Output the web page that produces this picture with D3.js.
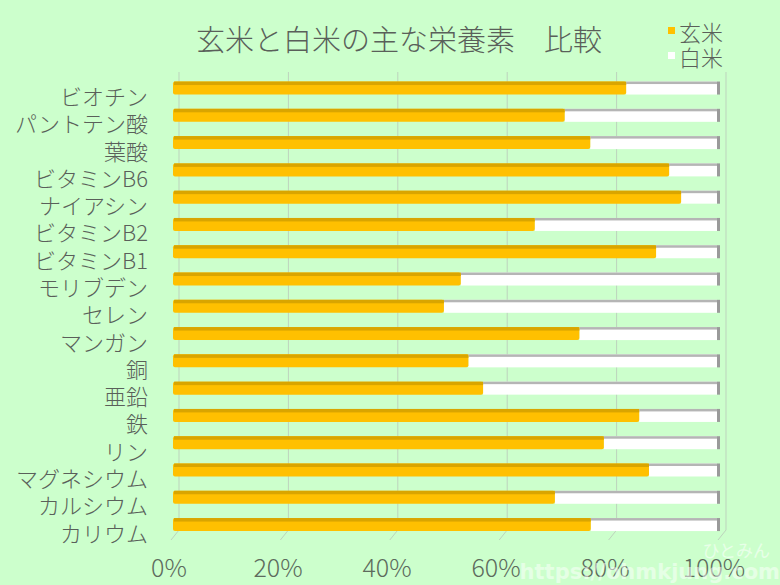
<!DOCTYPE html>
<html><head><meta charset="utf-8">
<script src="https://cdn.jsdelivr.net/npm/d3@7"></script>
<style>body{margin:0;background:#ccffcc;}svg{display:block;}</style>
</head><body>
<script>
const categories = ["ビオチン","パントテン酸","葉酸","ビタミンB6","ナイアシン","ビタミンB2","ビタミンB1","モリブデン","セレン","マンガン","銅","亜鉛","鉄","リン","マグネシウム","カルシウム","カリウム"];
const genmai = [0.833,0.720,0.767,0.912,0.934,0.665,0.888,0.529,0.498,0.747,0.543,0.570,0.857,0.792,0.875,0.702,0.768];
const hakumai = genmai.map(v => 1 - v);
const tickValues = [0,0.2,0.4,0.6,0.8,1.0];
const tickLabels = ["0%","20%","40%","60%","80%","100%"];
const seriesNames = ["玄米","白米"];
const title = "玄米と白米の主な栄養素　比較";

const W = 780, H = 585;
const font = "'Noto Sans CJK JP', 'Noto Sans', sans-serif";
const svg = d3.select("body").append("svg").attr("width", W).attr("height", H);
svg.append("rect").attr("width", W).attr("height", H).attr("fill", "#ccffcc");

const xBar = d3.scaleLinear().domain([0,1]).range([173,717]);
const xGrid = d3.scaleLinear().domain([0,1]).range([179,726]);
const xLab = d3.scaleLinear().domain([0,1]).range([169,714]);
const y = d3.scaleBand().domain(categories).range([74.4,538.2]).paddingInner(0.524).paddingOuter(0.262);
const barH = 13;
const yc = d => y(d) + y.bandwidth()/2;

// gridlines (back wall + floor)
const grid = svg.append("g");
tickValues.forEach(v => {
  grid.append("line").attr("x1", xGrid(v)).attr("x2", xGrid(v)).attr("y1", 72).attr("y2", 530)
    .attr("stroke", "#bdd3bd").attr("stroke-width", 1);
  grid.append("line").attr("x1", xGrid(v)).attr("x2", xGrid(v) - 8).attr("y1", 530).attr("y2", 540)
    .attr("stroke", "#bdd3bd").attr("stroke-width", 1);
});

// bars
const bars = svg.append("g");
categories.forEach((c, i) => {
  const top = yc(c) - barH/2;
  const xv = xBar(genmai[i]);
  const xe = xBar(genmai[i] + hakumai[i]);
  // white part (白米)
  bars.append("rect").attr("x", xv).attr("y", top).attr("width", xe - xv).attr("height", barH).attr("fill", "#ffffff");
  bars.append("rect").attr("x", xv).attr("y", top).attr("width", xe - xv).attr("height", 2.5).attr("fill", "#b5b5b5");
  bars.append("rect").attr("x", xe).attr("y", top).attr("width", 3).attr("height", barH).attr("fill", "#9a9a9a");
  // orange part (玄米)
  bars.append("rect").attr("x", xBar(0)).attr("y", top).attr("width", xv - xBar(0)).attr("height", barH)
    .attr("rx", 2).attr("fill", "#ffc000");
  bars.append("rect").attr("x", xBar(0) + 1).attr("y", top).attr("width", xv - xBar(0) - 1).attr("height", 3.5)
    .attr("fill", "#d9a500");
});

// category labels
svg.append("g").selectAll("text").data(categories).join("text")
  .attr("x", 148).attr("y", d => yc(d) + 7)
  .attr("text-anchor", "end").attr("dominant-baseline", "central")
  .attr("font-family", font).attr("font-weight", 300).attr("font-size", 22).attr("fill", "#5a5f5a")
  .text(d => d);

// x tick labels
svg.append("g").selectAll("text").data(tickValues).join("text")
  .attr("x", (d) => xLab(d)).attr("y", 566)
  .attr("text-anchor", "middle").attr("dominant-baseline", "central")
  .attr("font-family", font).attr("font-weight", 300).attr("font-size", 25).attr("fill", "#5d6b5d")
  .text((d, i) => tickLabels[i]);

// title
svg.append("text").attr("x", 399).attr("y", 38).attr("text-anchor", "middle").attr("dominant-baseline", "central")
  .attr("font-family", font).attr("font-weight", 300).attr("font-size", 29).attr("fill", "#5a5f5a").text(title);

// legend
const legColors = ["#ffc000", "#ffffff"];
seriesNames.forEach((s, i) => {
  const ly = 31 + i * 25;
  svg.append("rect").attr("x", 668).attr("y", ly - 4).attr("width", 7).attr("height", 7).attr("fill", legColors[i]);
  svg.append("text").attr("x", 679).attr("y", ly).attr("dominant-baseline", "central")
    .attr("font-family", font).attr("font-weight", 300).attr("font-size", 22).attr("fill", "#5a5f5a").text(s);
});

// watermark
svg.append("text").attr("x", 770).attr("y", 549).attr("text-anchor", "end").attr("dominant-baseline", "central")
  .attr("font-family", font).attr("font-size", 17).attr("fill", "#ffffff").attr("opacity", 0.55).text("ひとみん");
svg.append("text").attr("x", 780).attr("y", 572).attr("text-anchor", "end").attr("dominant-baseline", "central")
  .attr("font-family", "'DejaVu Sans', sans-serif").attr("font-weight", "bold").attr("font-size", 21)
  .attr("fill", "#ffffff").attr("opacity", 0.5).text("https://ohmkjung.com");
</script>
</body></html>
